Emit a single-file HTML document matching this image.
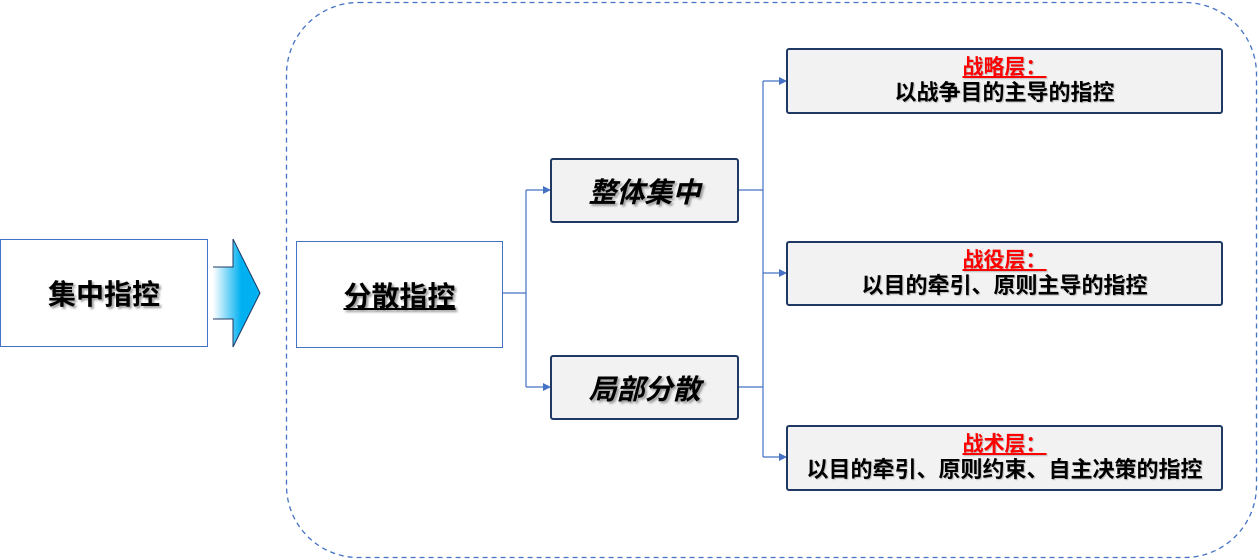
<!DOCTYPE html>
<html><head><meta charset="utf-8"><style>
body{margin:0;width:1259px;height:560px;background:#fff;position:relative;overflow:hidden;font-family:"Liberation Sans","Noto Sans CJK SC",sans-serif;}
.b{position:absolute;box-sizing:border-box;display:flex;align-items:center;justify-content:center;flex-direction:column;text-align:center;font-weight:bold;color:#000;}
.w{border:1.5px solid #4472c4;background:#fff;font-size:28px;text-shadow:2px 2px 2px #999;}
.g{border:2px solid #1f3864;background:#f2f2f2;border-radius:3px;}
.i{font-size:28px;font-style:italic;text-shadow:2px 2px 2px #999;}
.r{color:#f00;font-size:21px;line-height:24px;text-decoration:underline;text-shadow:1px 1px 1px #bbb;}
.k{font-size:22px;line-height:26px;text-shadow:1px 1px 1px #bbb;}
</style></head><body>
<svg style="position:absolute;left:0;top:0" width="1259" height="560">
<defs>
<linearGradient id="gr" x1="0" x2="1"><stop offset="0" stop-color="#fff"/><stop offset="0.6" stop-color="#00b0f0"/></linearGradient>
<marker id="a" markerWidth="8" markerHeight="8" refX="7" refY="4" orient="auto" markerUnits="userSpaceOnUse"><path d="M0,0 L8,4 L0,8z" fill="#4472c4"/></marker>
</defs>
<rect x="286.5" y="2.5" width="970" height="555" rx="72" fill="none" stroke="#4472c4" stroke-width="1.3" stroke-dasharray="5,4"/>
<path d="M213,267 L233,267 L233,239 L260,293 L233,347 L233,319 L213,319z" fill="url(#gr)"/>
<path d="M213,267 L233,267 L233,239 L260,293 L233,347 L233,319 L213,319" fill="none" stroke="#1f3864" stroke-width="1"/>
<g stroke="#4472c4" stroke-width="1.2" fill="none">
<path d="M502,293 H526 M526,190 V387"/>
<path d="M526,190 H550" marker-end="url(#a)"/>
<path d="M526,387 H550" marker-end="url(#a)"/>
<path d="M738,190 H763 M738,387 H763 M763,81 V457"/>
<path d="M763,81 H786" marker-end="url(#a)"/>
<path d="M763,273 H786" marker-end="url(#a)"/>
<path d="M763,457 H786" marker-end="url(#a)"/>
</g>
</svg>
<div class="b w" style="left:0;top:239px;width:208px;height:108px;">集中指控</div>
<div class="b w" style="left:296px;top:241px;width:207px;height:107px;"><span style="text-decoration:underline">分散指控</span></div>
<div class="b g i" style="left:550px;top:158px;width:189px;height:65px;">整体集中</div>
<div class="b g i" style="left:550px;top:355px;width:189px;height:65px;">局部分散</div>
<div class="b g" style="left:786px;top:48px;width:437px;height:66px;"><div class="r">战略层：</div><div class="k">以战争目的主导的指控</div></div>
<div class="b g" style="left:786px;top:241px;width:437px;height:65px;"><div class="r">战役层：</div><div class="k">以目的牵引、原则主导的指控</div></div>
<div class="b g" style="left:786px;top:425px;width:437px;height:66px;"><div class="r">战术层：</div><div class="k">以目的牵引、原则约束、自主决策的指控</div></div>
</body></html>
